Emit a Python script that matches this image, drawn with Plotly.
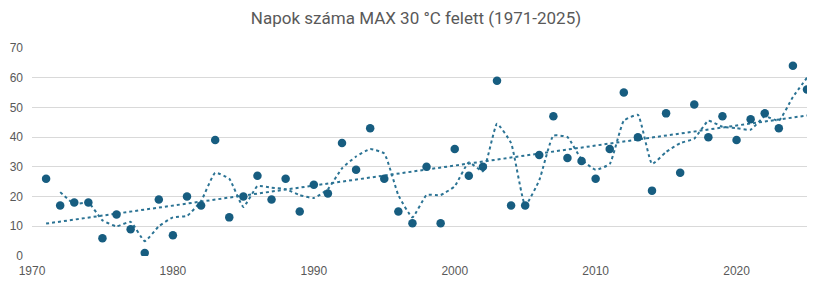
import numpy as np
import plotly.graph_objects as go

years = list(range(1971, 2026))
days = [26, 17, 18, 18, 6, 14, 9, 1, 19, 7,
        20, 17, 39, 13, 20, 27, 19, 26, 15, 24,
        21, 38, 29, 43, 26, 15, 11, 30, 11, 36,
        27, 30, 59, 17, 17, 34, 47, 33, 32, 26,
        36, 55, 40, 22, 48, 28, 51, 40, 47, 39,
        46, 48, 43, 64, 56]

title = "Napok száma MAX 30 °C felett (1971-2025)"

# 2-period moving average
ma_x = years[1:]
ma_y = [(days[i - 1] + days[i]) / 2 for i in range(1, len(days))]

# linear trend
coef = np.polyfit(years, days, 1)
trend_x = [years[0], years[-1]]
trend_y = [float(np.polyval(coef, x)) for x in trend_x]

mark_col = "#175d80"
line_col = "#2b7394"
grid_col = "#d9d9d9"
txt_col = "#595959"

fig = go.Figure()
fig.add_trace(go.Scatter(x=ma_x, y=ma_y, mode="lines",
                         line=dict(color=line_col, width=2, dash="dot", shape="spline", smoothing=0.4),
                         showlegend=False, hoverinfo="skip"))
fig.add_trace(go.Scatter(x=trend_x, y=trend_y, mode="lines",
                         line=dict(color=line_col, width=2, dash="dot"),
                         showlegend=False, hoverinfo="skip"))
fig.add_trace(go.Scatter(x=years, y=days, mode="markers",
                         marker=dict(color=mark_col, size=8.5),
                         showlegend=False))

fig.update_layout(
    width=832, height=285,
    margin=dict(l=32, r=25, t=48, b=29),
    paper_bgcolor="white", plot_bgcolor="white",
    title=dict(text=title, x=0.5, xanchor="center", y=0.935, yanchor="middle",
               font=dict(family="Liberation Sans Narrow, Roboto, Arial", size=17, color=txt_col)),
    font=dict(family="Liberation Sans, Arial", size=12, color=txt_col),
)
fig.update_xaxes(range=[1970, 2025], tickvals=[1970, 1980, 1990, 2000, 2010, 2020],
                 showgrid=False, zeroline=False, showline=False, ticks="",
                 ticklabelstandoff=6, automargin=False,
                 tickfont=dict(size=12, color=txt_col))
fig.update_yaxes(range=[0, 70], tickvals=[0, 10, 20, 30, 40, 50, 60, 70],
                 showgrid=True, gridcolor=grid_col, gridwidth=1, zeroline=False,
                 showline=False, ticks="", ticklabelstandoff=8, automargin=False,
                 tickfont=dict(size=12, color=txt_col))

fig.write_html("out.html")
